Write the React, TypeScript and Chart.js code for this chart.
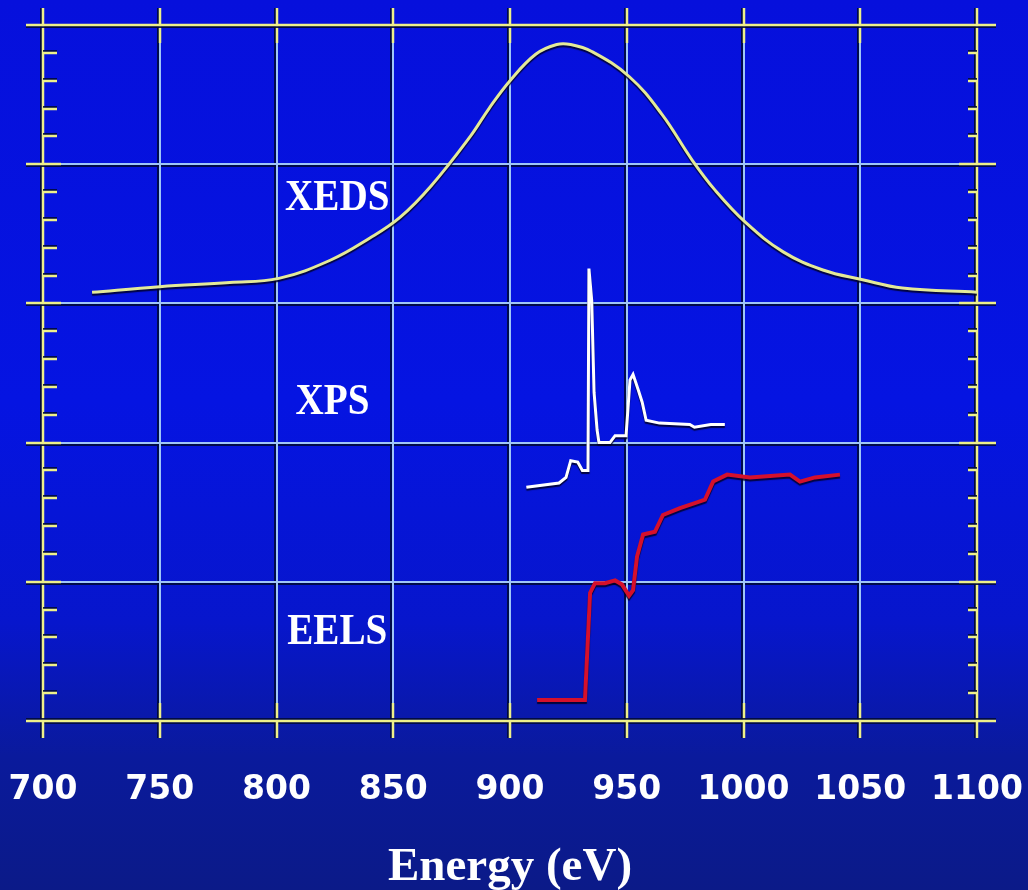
import React, { useEffect, useRef } from "react";
import { Chart, registerables } from "chart.js";

Chart.register(...registerables);

// ---- data ----
const xTicks = [700, 750, 800, 850, 900, 950, 1000, 1050, 1100];
const yMajor = [0, 1, 2, 3, 4, 5];
const xAxisTitle = "Energy (eV)";

const xedsEnergy = [721, 750, 780, 801, 823, 840, 853, 866, 883, 891, 900, 911, 920, 926, 935, 951, 965, 978, 988, 1001, 1017, 1034, 1051, 1068, 1100];
const xedsIntensity = [3.08, 3.12, 3.15, 3.18, 3.31, 3.47, 3.62, 3.84, 4.2, 4.4, 4.6, 4.79, 4.86, 4.86, 4.81, 4.63, 4.36, 4.03, 3.81, 3.58, 3.37, 3.24, 3.17, 3.11, 3.08];

const xpsEnergy = [907, 921, 924, 926, 929, 931, 933.4, 933.8, 935, 936, 937.3, 938.1, 942.8, 945, 949.7, 951.4, 952.7, 954.9, 956.6, 958.3, 964, 977, 979, 986, 992];
const xpsIntensity = [1.68, 1.71, 1.75, 1.87, 1.86, 1.8, 1.8, 3.25, 3.02, 2.36, 2.09, 2.0, 2.0, 2.05, 2.05, 2.45, 2.49, 2.38, 2.29, 2.16, 2.14, 2.13, 2.11, 2.13, 2.13];

const eelsEnergy = [911.6, 932.1, 934.3, 936.4, 940.7, 945, 948, 951, 952.7, 954.4, 957, 962.1, 965.5, 972.8, 980.1, 983.5, 987, 993, 1002.8, 1019.9, 1024.2, 1030.6, 1041.3];
const eelsIntensity = [0.15, 0.15, 0.92, 0.99, 0.99, 1.01, 0.98, 0.9, 0.94, 1.18, 1.34, 1.36, 1.48, 1.53, 1.57, 1.59, 1.72, 1.77, 1.75, 1.77, 1.72, 1.75, 1.77];

const seriesLabels = ["XEDS", "XPS", "EELS"];
const labelEnergy = [826, 824, 826];
const labelLevel = [3.77, 2.3, 0.65];

const YELLOW = "#eef08a";
const GRID = "#9fc6f8";
const SHADOW = "rgba(0,10,60,0.9)";

const pts = (xs: number[], ys: number[]) => xs.map((x, i) => ({ x, y: ys[i] }));

const decorPlugin = {
  id: "decor",
  beforeDraw(chart: any) {
    const { ctx, chartArea: a, scales } = chart;
    ctx.save();
    ctx.strokeStyle = SHADOW;
    ctx.lineWidth = 2;
    xTicks.forEach((v) => {
      const px = Math.round(scales.x.getPixelForValue(v)) - 2;
      ctx.beginPath();
      ctx.moveTo(px, a.top);
      ctx.lineTo(px, a.bottom);
      ctx.stroke();
    });
    yMajor.forEach((v) => {
      const py = Math.round(scales.y.getPixelForValue(v)) + 2;
      ctx.beginPath();
      ctx.moveTo(a.left, py);
      ctx.lineTo(a.right, py);
      ctx.stroke();
    });
    ctx.restore();
  },
  beforeDatasetsDraw(chart: any) {
    const { ctx, chartArea: a, scales } = chart;
    const ext = 17;
    const inner = 18;
    ctx.save();
    const seg = (x1: number, y1: number, x2: number, y2: number, color: string, w: number) => {
      ctx.strokeStyle = color;
      ctx.lineWidth = w;
      ctx.beginPath();
      ctx.moveTo(x1, y1);
      ctx.lineTo(x2, y2);
      ctx.stroke();
    };
    xTicks.forEach((v, i) => {
      const px = Math.round(scales.x.getPixelForValue(v));
      const edge = i === 0 || i === xTicks.length - 1;
      if (edge) {
        seg(px - 2, a.top - ext, px - 2, a.bottom + ext, SHADOW, 2);
        seg(px, a.top - ext, px, a.bottom + ext, YELLOW, 2.5);
      } else {
        seg(px - 2, a.top - ext, px - 2, a.top + inner, SHADOW, 2);
        seg(px - 2, a.bottom - inner, px - 2, a.bottom + ext, SHADOW, 2);
        seg(px, a.top - ext, px, a.top + inner, YELLOW, 2.5);
        seg(px, a.bottom - inner, px, a.bottom + ext, YELLOW, 2.5);
      }
    });
    yMajor.forEach((v, i) => {
      const py = Math.round(scales.y.getPixelForValue(v));
      const edge = i === 0 || i === yMajor.length - 1;
      const sh = i === 0 ? -2 : 2;
      if (edge) {
        seg(a.left - ext, py + sh, a.right + ext + 2, py + sh, SHADOW, 2);
        seg(a.left - ext, py, a.right + ext + 2, py, YELLOW, 2.5);
      } else {
        seg(a.left - ext, py + 2, a.left + inner, py + 2, SHADOW, 2);
        seg(a.right - inner, py + 2, a.right + ext + 2, py + 2, SHADOW, 2);
        seg(a.left - ext, py, a.left + inner, py, YELLOW, 2.5);
        seg(a.right - inner, py, a.right + ext + 2, py, YELLOW, 2.5);
      }
    });
    for (let m = 0; m < 5; m++) {
      for (let k = 1; k < 5; k++) {
        const py = Math.round(scales.y.getPixelForValue(m + k * 0.2));
        seg(a.left, py - 2, a.left + 14, py - 2, SHADOW, 2);
        seg(a.left, py, a.left + 14, py, YELLOW, 2.5);
        seg(a.right - 9, py - 2, a.right, py - 2, SHADOW, 2);
        seg(a.right - 9, py, a.right, py, YELLOW, 2.5);
      }
    }
    ctx.fillStyle = "#ffffff";
    ctx.textAlign = "center";
    ctx.textBaseline = "middle";
    ctx.font = "bold 45px 'Liberation Serif', serif";
    seriesLabels.forEach((t, i) => {
      const x = scales.x.getPixelForValue(labelEnergy[i]);
      const y = scales.y.getPixelForValue(labelLevel[i]);
      ctx.save();
      ctx.translate(x, y);
      ctx.scale(0.87, 1);
      ctx.fillText(t, 0, 2);
      ctx.restore();
    });
    ctx.textBaseline = "alphabetic";
    ctx.font = "bold 47px 'Liberation Serif', serif";
    ctx.fillText(xAxisTitle, (a.left + a.right) / 2, 880);
    ctx.restore();
  },
  beforeDatasetDraw(chart: any) {
    const ctx = chart.ctx;
    ctx.save();
    ctx.shadowColor = "rgba(0,0,40,0.85)";
    ctx.shadowOffsetX = 0;
    ctx.shadowOffsetY = 2;
    ctx.shadowBlur = 1;
  },
  afterDatasetDraw(chart: any) {
    chart.ctx.restore();
  },
};

export default function App() {
  const ref = useRef<HTMLCanvasElement | null>(null);
  useEffect(() => {
    if (!ref.current) return;
    const chart = new Chart(ref.current, {
      type: "line",
      data: {
        datasets: [
          { label: "XEDS", data: pts(xedsEnergy, xedsIntensity), borderColor: "#e4ea98", borderWidth: 3, pointRadius: 0, tension: 0.4 },
          { label: "XPS", data: pts(xpsEnergy, xpsIntensity), borderColor: "#ffffff", borderWidth: 3, pointRadius: 0, tension: 0 },
          { label: "EELS", data: pts(eelsEnergy, eelsIntensity), borderColor: "#d5102c", borderWidth: 4, pointRadius: 0, tension: 0 },
        ],
      },
      options: {
        responsive: false,
        animation: false,
        layout: { padding: { left: 0, right: 51, top: 25, bottom: 0 } },
        plugins: { legend: { display: false }, tooltip: { enabled: false } },
        scales: {
          x: {
            type: "linear",
            min: 700,
            max: 1100,
            afterBuildTicks: (s: any) => {
              s.ticks = xTicks.map((v) => ({ value: v }));
            },
            afterFit: (s: any) => {
              s.height = 169;
              s.paddingLeft = 0;
              s.paddingRight = 0;
            },
            grid: { color: GRID, lineWidth: 2, drawTicks: false },
            border: { display: false },
            ticks: {
              color: "#ffffff",
              font: { family: "'DejaVu Sans', sans-serif", weight: "bold", size: 33 },
              padding: 50,
              maxRotation: 0,
              autoSkip: false,
              callback: (v: any) => String(v),
            },
          },
          y: {
            type: "linear",
            min: 0,
            max: 5,
            afterBuildTicks: (s: any) => {
              s.ticks = yMajor.map((v) => ({ value: v }));
            },
            afterFit: (s: any) => {
              s.width = 43;
              s.paddingTop = 0;
              s.paddingBottom = 0;
            },
            grid: { color: GRID, lineWidth: 2, drawTicks: false },
            border: { display: false },
            ticks: { display: false },
          },
        },
      },
      plugins: [decorPlugin],
    } as any);
    return () => chart.destroy();
  }, []);

  return (
    <div
      style={{
        position: "fixed",
        left: 0,
        top: 0,
        width: 1028,
        height: 890,
        background:
          "linear-gradient(180deg, #0610dc 0%, #0514e2 45%, #0716cc 70%, #0a1a9c 85%, #0b1a88 100%)",
      }}
    >
      <canvas ref={ref} width={1028} height={890} style={{ display: "block" }} />
    </div>
  );
}
